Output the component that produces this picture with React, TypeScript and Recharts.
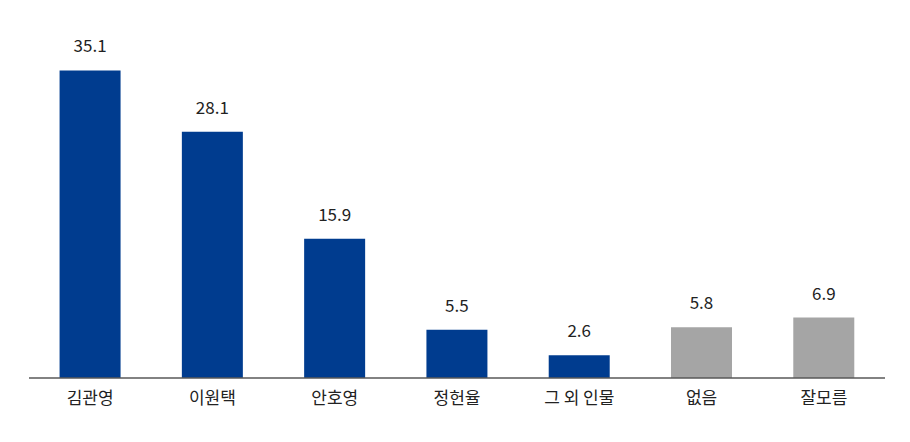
import { BarChart, Bar, XAxis, YAxis, Cell, LabelList } from "recharts";

const candidates = ["김관영", "이원택", "안호영", "정헌율", "그 외 인물", "없음", "잘모름"];
const support = [35.1, 28.1, 15.9, 5.5, 2.6, 5.8, 6.9];
const barColors = ["#003c8f", "#003c8f", "#003c8f", "#003c8f", "#003c8f", "#a5a5a5", "#a5a5a5"];

const data = candidates.map((name, i) => ({ name, value: support[i] }));

const FONT = "'Noto Sans CJK KR', 'Noto Sans', sans-serif";

export default function App() {
  return (
    <div style={{ width: 894, height: 426, background: "#fff", fontFamily: FONT }}>
      <BarChart
        width={894}
        height={426}
        data={data}
        margin={{ top: 2, right: 17, bottom: 0, left: 21 }}
        barCategoryGap="25%"
      >
        <XAxis
          dataKey="name"
          height={56}
          axisLine={{ stroke: "#595959", strokeWidth: 1.5 }}
          tickLine={false}
          tickMargin={8}
          interval={0}
          tick={{ fill: "#222", fontSize: 17, fontFamily: FONT }}
        />
        <YAxis hide type="number" domain={[0, 42]} />
        <Bar dataKey="value" fill="#003c8f" isAnimationActive={false}>
          {data.map((d, i) => (
            <Cell key={d.name} fill={barColors[i]} />
          ))}
          <LabelList
            dataKey="value"
            position="top"
            offset={18}
            fill="#222"
            fontSize={17}
            fontFamily={FONT}
          />
        </Bar>
      </BarChart>
    </div>
  );
}
